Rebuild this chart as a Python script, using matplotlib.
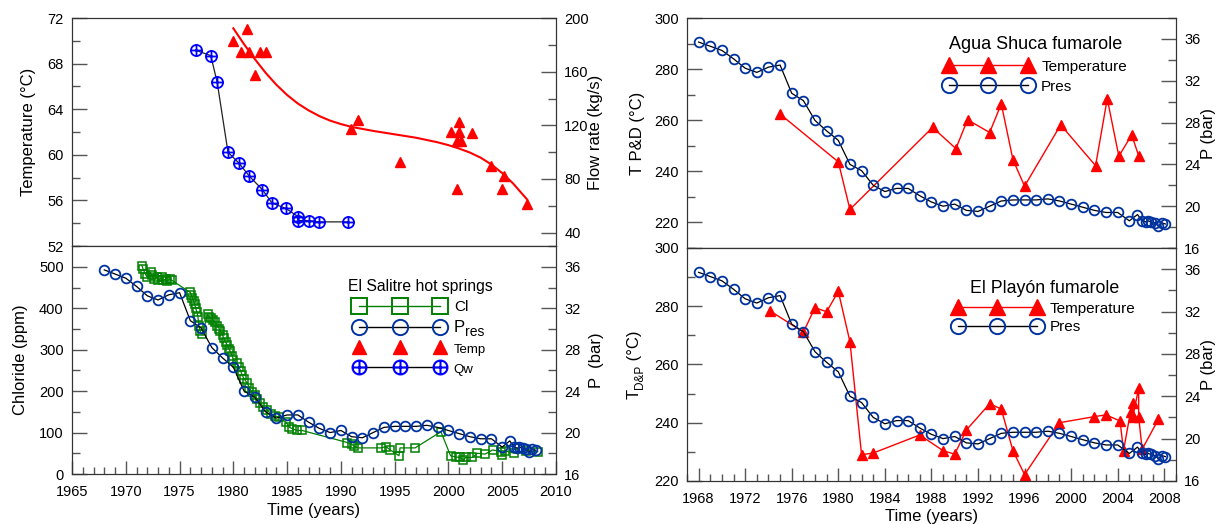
import matplotlib
matplotlib.use('Agg')
import matplotlib.pyplot as plt
from matplotlib.path import Path
from matplotlib.lines import Line2D
from matplotlib.ticker import MultipleLocator

plt.rcParams['font.family'] = ['Liberation Sans', 'DejaVu Sans']

# reservoir pressure (bar), same series in three panels
pres_year = [1968, 1969, 1970, 1971, 1972, 1973, 1974, 1975, 1976, 1977, 1978, 1979,
             1980, 1981, 1982, 1983, 1984, 1985, 1986, 1987, 1988, 1989, 1990, 1991,
             1992, 1993, 1994, 1995, 1996, 1997, 1998, 1999, 2000, 2001, 2002, 2003,
             2004, 2005.0, 2005.7, 2006.1, 2006.4, 2006.6, 2006.9, 2007.2, 2007.5,
             2007.8, 2008.1]
pres_bar = [35.7, 35.3, 34.9, 34.1, 33.2, 32.8, 33.3, 33.5, 30.8, 30.1, 28.2, 27.2,
            26.3, 24.0, 23.4, 22.0, 21.4, 21.7, 21.7, 21.0, 20.4, 20.0, 20.2, 19.6,
            19.5, 20.0, 20.5, 20.6, 20.6, 20.6, 20.7, 20.5, 20.2, 19.9, 19.6, 19.4,
            19.4, 18.6, 19.2, 18.6, 18.5, 18.6, 18.5, 18.4, 18.1, 18.4, 18.3]

# El Salitre hot springs
qw_year = [1976.5, 1977.9, 1978.5, 1979.5, 1980.5, 1981.5, 1982.7, 1983.6, 1984.9,
           1986.0, 1986.0, 1987.0, 1988.0, 1990.7]
qw_flow = [176, 172, 152, 100, 92, 82, 72, 62, 58, 52, 49, 49, 48, 48]

sal_temp_year = [1980.0, 1980.7, 1981.3, 1981.5, 1982.0, 1982.5, 1983.0, 1990.9, 1991.6,
                 1995.5, 2000.2, 2000.8, 2000.8, 2001.0, 2001.0, 2001.2, 2002.2, 2004.0,
                 2005.0, 2005.2, 2007.3]
sal_temp = [70.0, 69.0, 71.0, 69.0, 67.0, 69.0, 69.0, 62.3, 63.1, 59.4, 62.0, 61.2,
            57.0, 62.9, 62.0, 61.2, 61.9, 59.0, 57.0, 58.1, 55.7]

# trend curve
fit_year = [1980.0, 1981.0, 1982.0, 1983.0, 1984.0, 1985.0, 1986.0, 1987.0, 1988.0,
            1989.0, 1990.0, 1991.0, 1993.0, 1995.0, 1997.0, 1999.0, 2000.0, 2001.0,
            2002.0, 2003.0, 2004.0, 2005.0, 2006.0, 2007.3]
fit_temp = [71.1, 69.7, 68.4, 67.2, 66.15, 65.25, 64.5, 63.9, 63.4, 63.0, 62.7, 62.45,
            62.1, 61.8, 61.5, 61.1, 60.85, 60.55, 60.2, 59.75, 59.15, 58.4, 57.5, 56.1]

cl_year = [1971.5, 1971.6, 1971.8, 1972.0, 1972.3, 1972.4, 1972.6, 1972.9, 1973.0, 1973.4,
           1973.5, 1973.7, 1973.8, 1974.1, 1974.3,
           1976.0, 1976.1, 1976.2, 1976.3, 1976.4, 1976.5, 1976.6, 1976.7, 1976.8, 1976.9,
           1977.1,
           1977.6, 1977.7, 1977.9, 1978.1, 1978.3, 1978.5, 1978.7, 1978.8, 1979.0, 1979.1,
           1979.3, 1979.4, 1979.6, 1979.7, 1979.9, 1980.0, 1980.3, 1980.5, 1980.7, 1980.8,
           1981.0, 1981.3, 1981.5, 1981.7, 1982.0, 1982.2, 1982.5, 1982.8, 1983.1, 1983.5,
           1983.9, 1984.2, 1984.9, 1985.2, 1985.5, 1985.9, 1986.4,
           1990.6, 1991.0, 1991.2, 1991.6, 1993.7, 1994.2, 1994.6, 1995.4, 1995.5, 1996.9,
           1999.3, 2000.2, 2000.7, 2001.1, 2001.4, 2001.6, 2002.2, 2002.7, 2003.4, 2004.1,
           2004.9, 2005.0, 2005.3, 2006.1, 2007.2, 2008.3]
cl_ppm = [503, 495, 483, 475, 487, 479, 471, 475, 467, 475, 467, 471, 465, 471, 467,
          438, 432, 425, 418, 410, 400, 392, 380, 357, 345, 337,
          385, 380, 376, 372, 366, 358, 350, 345, 335, 328, 318, 312, 302, 296, 285, 276,
          268, 259, 248, 239, 230, 219, 208, 198, 190, 182, 172, 162, 155, 146, 140, 138,
          125, 113, 109, 105, 105,
          76, 72, 68, 63, 63, 66, 58, 44, 63, 63, 102, 44, 41, 40, 33, 40, 40, 50, 48, 58,
          54, 46, 56, 50, 56, 54]

# Agua Shuca fumarole
shuca_year = [1975.0, 1980.0, 1981.0, 1988.1, 1990.1, 1991.1, 1993.0, 1994.0, 1995.0,
              1996.0, 1999.1, 2002.1, 2003.1, 2004.1, 2005.2, 2005.8]
shuca_temp = [262.4, 243.7, 225.1, 257.2, 248.9, 260.2, 255.2, 266.4, 244.6, 234.2,
              258.2, 242.2, 268.4, 245.9, 254.3, 246.1]

# El Playon fumarole
playon_year = [1974.1, 1977.0, 1978.0, 1979.0, 1980.0, 1981.0, 1982.0, 1983.0, 1987.0,
               1989.0, 1990.0, 1991.0, 1993.0, 1994.0, 1995.0, 1996.0, 1999.0, 2002.0,
               2003.0, 2004.2, 2004.5, 2005.1, 2005.3, 2005.3, 2005.8, 2005.8, 2006.1,
               2007.5]
playon_temp = [278.5, 271.1, 279.5, 278.1, 285.1, 267.8, 229.0, 229.6, 235.8, 230.4,
               229.2, 237.5, 246.5, 244.7, 230.4, 222.2, 240.0, 242.1, 242.7, 240.6,
               230.4, 243.8, 246.9, 241.9, 251.9, 242.1, 230.9, 241.2]

GREEN = '#008000'
DBLUE = '#0033a0'
RED = '#ff0000'
SPINE = '#333333'

oplus = Path.make_compound_path(
    Path.unit_circle(),
    Path([[-1, 0], [1, 0], [0, -1], [0, 1]],
         [Path.MOVETO, Path.LINETO, Path.MOVETO, Path.LINETO]))


def style(ax, tw, show_x):
    for a in (ax, tw):
        for s in a.spines.values():
            s.set_color(SPINE)
        a.tick_params(which='major', direction='in', length=11, width=1,
                      color='#555555', labelsize=10.5, pad=6)
        a.tick_params(which='minor', direction='in', length=5.5, width=1,
                      color='#555555')
        a.tick_params(axis='x', which='major', length=9.5, pad=8)
        a.tick_params(axis='x', which='minor', length=5)
        if not show_x:
            a.tick_params(axis='x', which='both', bottom=False, labelbottom=False)


fig = plt.figure(figsize=(12.23, 5.24), dpi=100)
W, H = 1223.0, 524.0

# ---- left top: temperature and flow rate
ax1 = fig.add_axes([0.0589, 0.5305, 0.3957, 0.435])
ax1t = ax1.twinx()
ax1.plot(fit_year, fit_temp, color=RED, lw=1.5)
ax1.plot(sal_temp_year, sal_temp, ls='none', marker='^', color=RED, ms=7.5)
ax1t.plot(qw_year, qw_flow, color='#222222', lw=0.9, marker=oplus, mfc='none',
          mec='blue', ms=8, mew=1.3)
ax1.set_xlim(1965, 2010)
ax1.set_ylim(52, 72)
ax1.yaxis.set_major_locator(MultipleLocator(4))
ax1.yaxis.set_minor_locator(MultipleLocator(2))
ax1t.set_ylim(30, 200)
ax1t.yaxis.set_major_locator(MultipleLocator(40))
ax1t.yaxis.set_minor_locator(MultipleLocator(20))
style(ax1, ax1t, False)
ax1.set_ylabel('Temperature (°C)', fontsize=12, va='center')
ax1.yaxis.set_label_coords(-0.089, 0.5)
ax1t.set_ylabel('Flow rate (kg/s)', fontsize=12, va='center')
ax1t.yaxis.set_label_coords(1.081, 0.5)

# ---- left bottom: chloride and pressure
ax2 = fig.add_axes([0.0589, 0.0954, 0.3957, 0.435])
ax2t = ax2.twinx()
ax2.plot(cl_year, cl_ppm, color=GREEN, lw=0.9, marker='s', mfc='none', mec=GREEN,
         ms=6, mew=1.1)
ax2t.plot(pres_year, pres_bar, color='black', lw=0.9, marker='o', mfc='none', mec=DBLUE,
          ms=7, mew=1.3)
ax2.set_xlim(1965, 2010)
ax2.xaxis.set_major_locator(MultipleLocator(5))
ax2.xaxis.set_minor_locator(MultipleLocator(1))
ax2.set_ylim(0, 550)
ax2.yaxis.set_major_locator(MultipleLocator(100))
ax2.yaxis.set_minor_locator(MultipleLocator(50))
ax2t.set_ylim(16, 38)
ax2t.yaxis.set_major_locator(MultipleLocator(4))
ax2t.yaxis.set_minor_locator(MultipleLocator(2))
style(ax2, ax2t, True)
ax2.set_ylabel('Chloride (ppm)', fontsize=12, va='center')
ax2.yaxis.set_label_coords(-0.107, 0.5)
ax2t.set_ylabel('P  (bar)', fontsize=12, va='center')
ax2t.yaxis.set_label_coords(1.084, 0.5)
ax2.set_xlabel('Time (years)', fontsize=12, labelpad=3)

h_cl = Line2D([], [], color=GREEN, lw=1, marker='s', mfc='none', mec=GREEN, ms=11, mew=1.4)
h_pr = Line2D([], [], color='black', lw=1, marker='o', mfc='none', mec=DBLUE, ms=11, mew=1.4)
h_tp = Line2D([], [], ls='none', marker='^', color=RED, ms=10)
h_qw = Line2D([], [], color='black', lw=1, marker=oplus, mfc='none', mec='blue', ms=10, mew=1.5)
leg = ax2t.legend([h_cl, h_pr, h_tp, h_qw], ['Cl', 'P', 'Temp', 'Qw'],
                  title='El Salitre hot springs', numpoints=3, frameon=False,
                  loc='upper left', bbox_to_anchor=(0.57, 0.857), handlelength=5.9,
                  handletextpad=0.6, labelspacing=0.42, borderpad=0, borderaxespad=0,
                  fontsize=11, title_fontsize=11.3)
leg.get_texts()[1].set_fontsize(12)
for t in leg.get_texts()[2:]:
    t.set_fontsize(9.5)

# ---- right top: Agua Shuca
ax3 = fig.add_axes([0.5617, 0.5267, 0.3998, 0.4389])
ax3t = ax3.twinx()
ax3.plot(shuca_year, shuca_temp, color=RED, lw=1, marker='^', ms=7.5)
ax3t.plot(pres_year, pres_bar, color='black', lw=0.9, marker='o', mfc='none', mec=DBLUE,
          ms=7, mew=1.3)
ax3.set_xlim(1967, 2009)
ax3.set_ylim(210, 300)
ax3.yaxis.set_major_locator(MultipleLocator(20))
ax3.yaxis.set_minor_locator(MultipleLocator(10))
ax3t.set_ylim(16, 38)
ax3t.yaxis.set_major_locator(MultipleLocator(4))
ax3t.yaxis.set_minor_locator(MultipleLocator(2))
style(ax3, ax3t, False)
ax3.set_ylabel('T P&D (°C)', fontsize=12, va='center')
ax3.yaxis.set_label_coords(-0.102, 0.5)
ax3t.set_ylabel('P (bar)', fontsize=12, va='center')
ax3t.yaxis.set_label_coords(1.067, 0.5)
h_t = Line2D([], [], color=RED, lw=1, marker='^', ms=11)
h_p = Line2D([], [], color='black', lw=1, marker='o', mfc='none', mec=DBLUE, ms=11, mew=1.4)
ax3t.legend([h_t, h_p], ['Temperature', 'Pres'], title='Agua Shuca fumarole',
            numpoints=3, frameon=False, loc='upper left', bbox_to_anchor=(0.526, 0.92),
            handlelength=5.8, handletextpad=0.55, labelspacing=0.4, borderpad=0,
            borderaxespad=0, fontsize=11, title_fontsize=13)

# ---- right bottom: El Playon
ax4 = fig.add_axes([0.5617, 0.0821, 0.3998, 0.4447])
ax4t = ax4.twinx()
ax4.plot(playon_year, playon_temp, color=RED, lw=1, marker='^', ms=7.5)
ax4t.plot(pres_year, pres_bar, color='black', lw=0.9, marker='o', mfc='none', mec=DBLUE,
          ms=7, mew=1.3)
ax4.set_xlim(1967, 2009)
ax4.xaxis.set_major_locator(MultipleLocator(4))
ax4.xaxis.set_minor_locator(MultipleLocator(1))
ax4.set_ylim(220, 300)
ax4.yaxis.set_major_locator(MultipleLocator(20))
ax4.yaxis.set_minor_locator(MultipleLocator(10))
ax4t.set_ylim(16, 38)
ax4t.yaxis.set_major_locator(MultipleLocator(4))
ax4t.yaxis.set_minor_locator(MultipleLocator(2))
style(ax4, ax4t, True)
ax4t.set_ylabel('P (bar)', fontsize=12, va='center')
ax4t.yaxis.set_label_coords(1.067, 0.5)
ax4.set_xlabel('Time (years)', fontsize=12, labelpad=2)
ax4t.legend([h_t, h_p], ['Temperature', 'Pres'], title='El Playón fumarole',
            numpoints=3, frameon=False, loc='upper left', bbox_to_anchor=(0.544, 0.862),
            handlelength=5.8, handletextpad=0.55, labelspacing=0.3, borderpad=0,
            borderaxespad=0, fontsize=11, title_fontsize=12.8)

# subscripted labels put together from plain text pieces
fig.canvas.draw()
rend = fig.canvas.get_renderer()


def text_len(s, fs):
    t = fig.text(0, 0, s, fontsize=fs)
    n = t.get_window_extent(rend).width
    t.remove()
    return n


# "T D&P (°C)" on the lower right panel, rotated
parts = [('T', 12, 0), ('D&P', 8.5, 4), (' (°C)', 12, 0)]
lens = [text_len(s, fs) for s, fs, dx in parts]
ypos = 159.5 - sum(lens) / 2
for (s, fs, dx), n in zip(parts, lens):
    fig.text((639 + dx) / W, ypos / H, s, fontsize=fs, rotation=90,
             rotation_mode='anchor', ha='left', va='baseline')
    ypos += n

# "res" subscript for the pressure legend entry
ptxt = leg.get_texts()[1]
bb = ptxt.get_window_extent(rend)
fig.text((bb.x1 + 0.5) / W, (bb.y0 - 3.5) / H, 'res', fontsize=10, ha='left', va='bottom')

plt.savefig('out.png', dpi=100)
